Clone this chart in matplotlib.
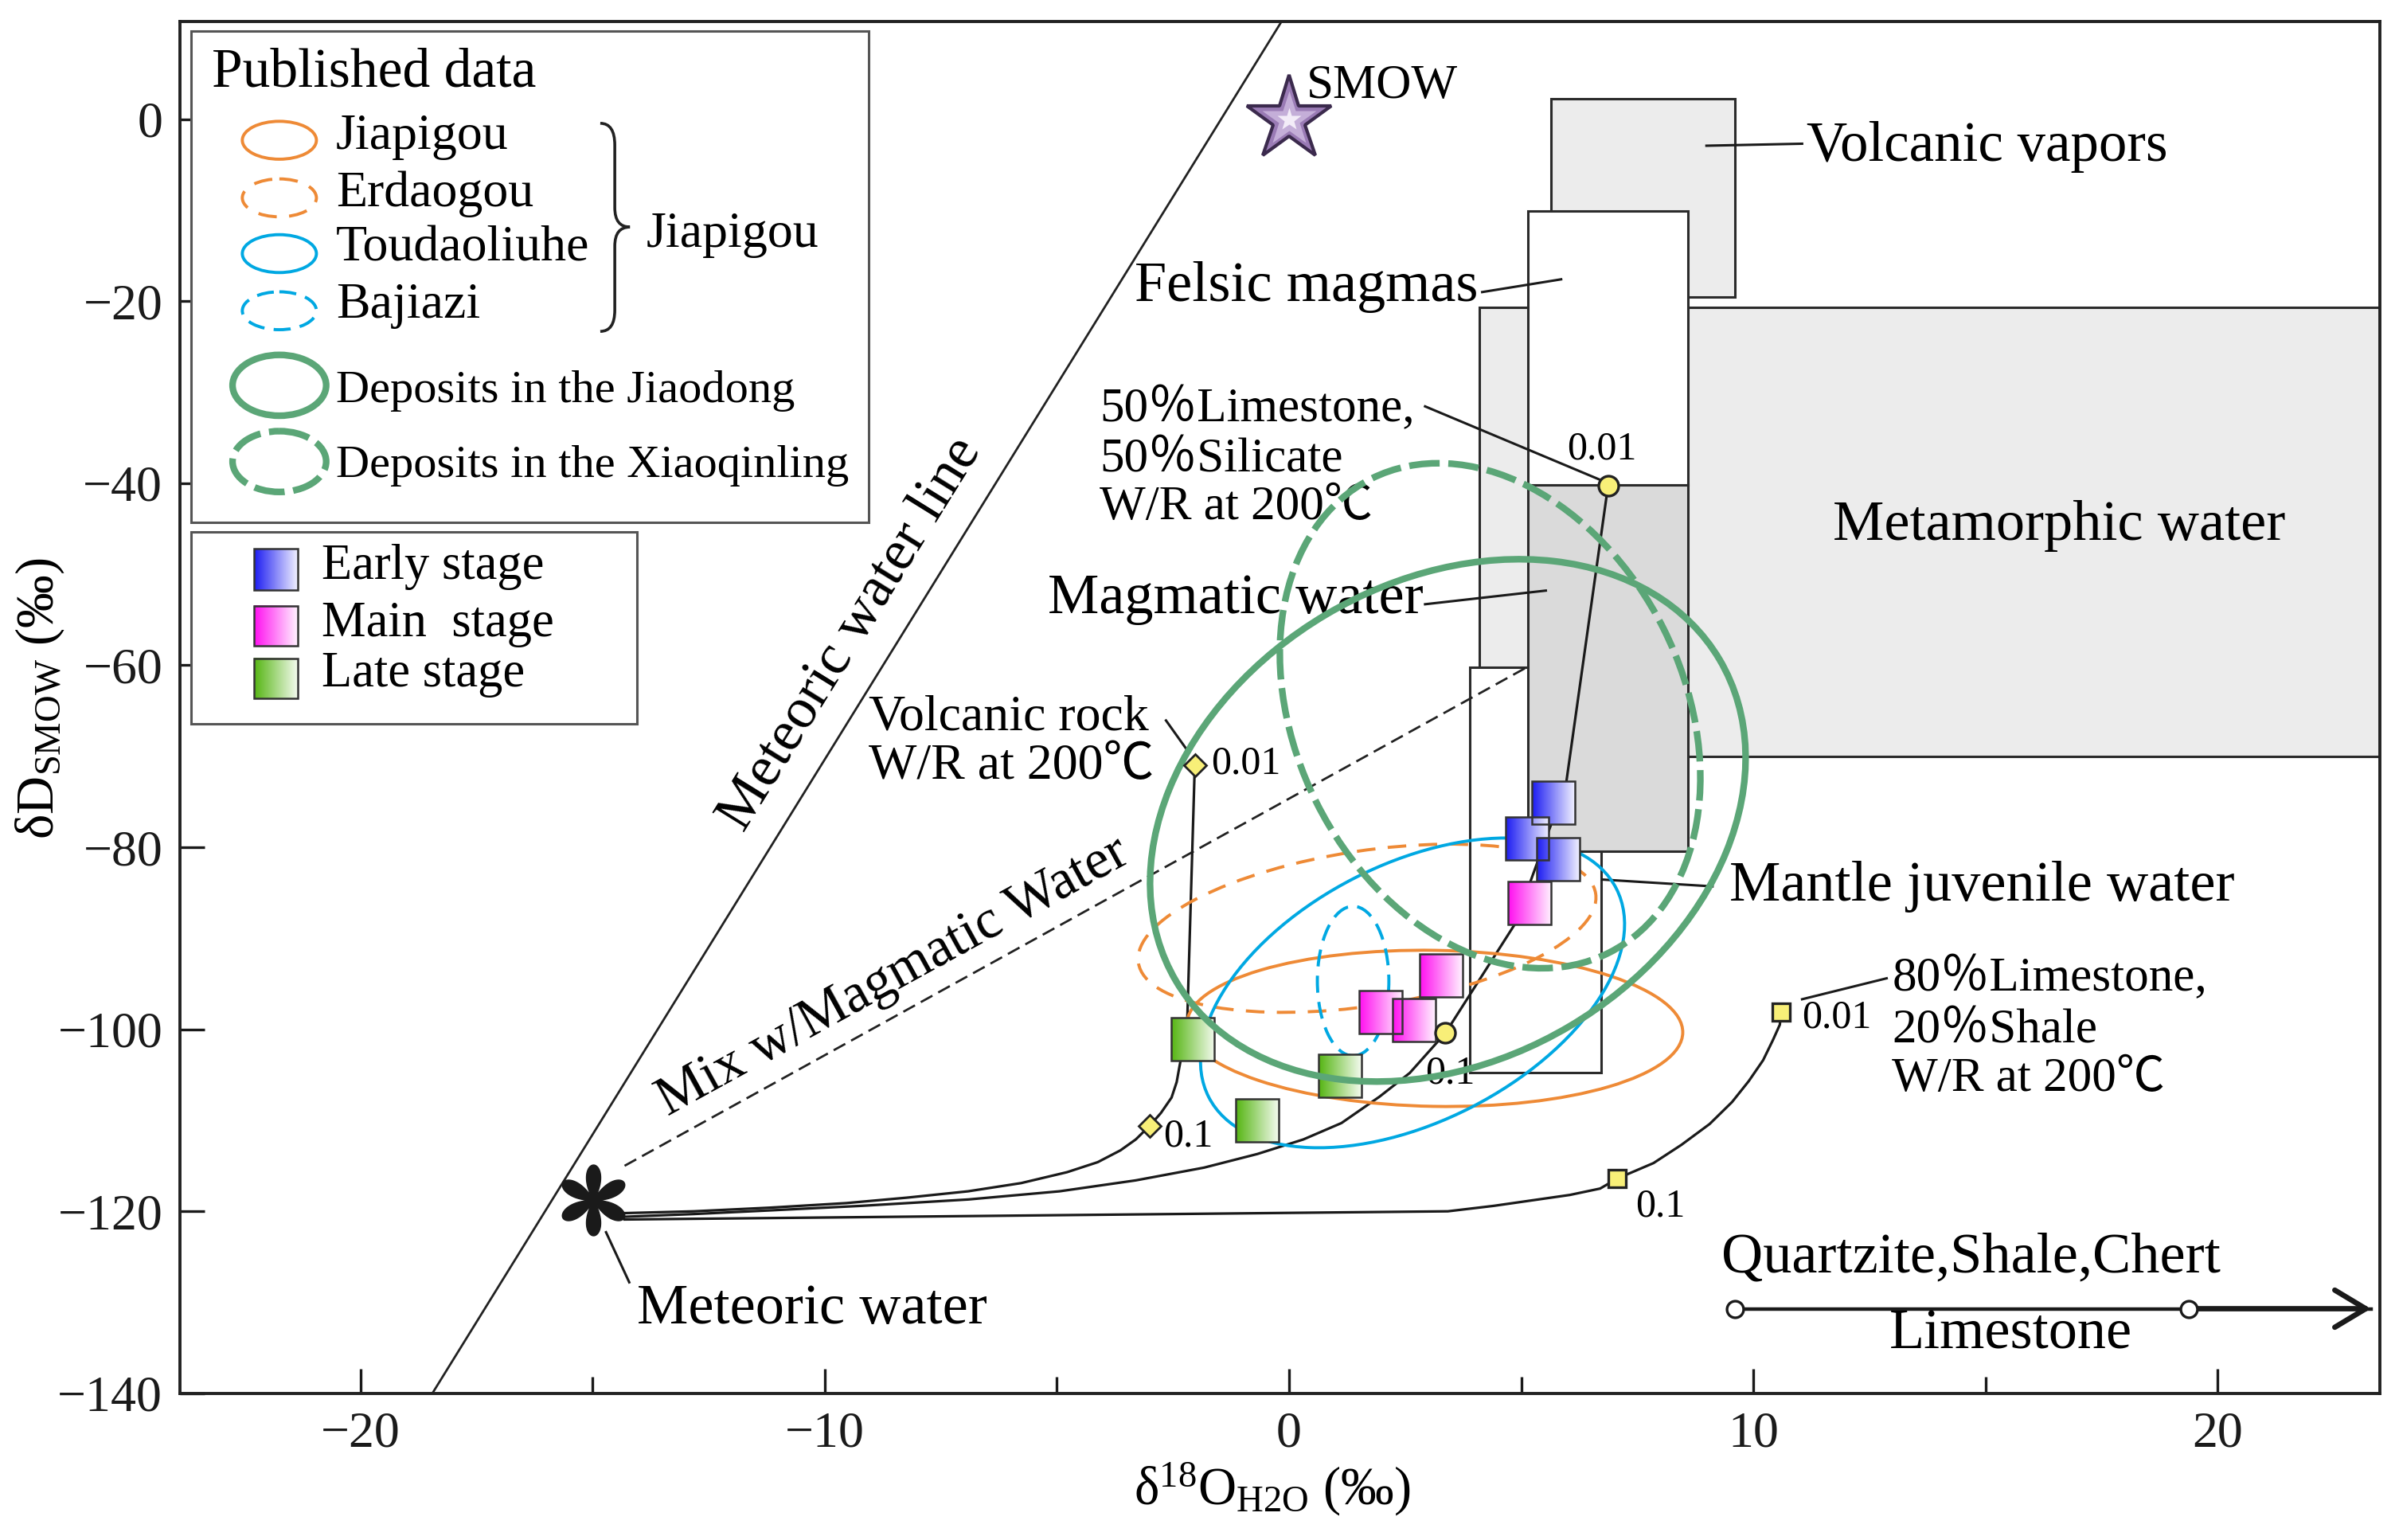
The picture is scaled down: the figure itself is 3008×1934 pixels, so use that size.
import numpy as np
import matplotlib
matplotlib.use('Agg')
import matplotlib.pyplot as plt
import matplotlib.transforms as mtransforms
from matplotlib.patches import Rectangle, Ellipse, PathPatch
from matplotlib.path import Path
from matplotlib.colors import LinearSegmentedColormap

plt.rcParams['font.family'] = ['Liberation Serif', 'Noto Sans CJK SC', 'DejaVu Serif']
plt.rcParams['mathtext.fontset'] = 'custom'
plt.rcParams['mathtext.rm'] = 'Liberation Serif'
plt.rcParams['mathtext.it'] = 'Liberation Serif:italic'
plt.rcParams['mathtext.bf'] = 'Liberation Serif:bold'

# ------------------------------------------------------------------ data
stage_labels = ['Early stage', 'Main  stage', 'Late stage']
early_d18o = [5.69, 5.13, 5.80]
early_dD = [-75.1, -79.0, -81.3]
main_d18o = [5.18, 3.28, 1.98, 2.69]
main_dD = [-86.1, -94.1, -98.1, -99.0]
late_d18o = [-2.08, 1.09, -0.69]
late_dD = [-101.1, -105.1, -110.0]

# published-data fields (centre, semi-axes in d18O units, tilt in degrees)
field_names = ['Jiapigou', 'Erdaogou', 'Toudaoliuhe', 'Bajiazi',
               'Deposits in the Jiaodong', 'Deposits in the Xiaoqinling']
field_cx = [3.14, 1.68, 2.66, 1.38, 3.42, 4.33]
field_cy = [-99.9, -88.9, -96.0, -94.7, -77.05, -65.55]
field_a = [5.34, 4.98, 4.93, 0.77, 6.80, 5.71]
field_b = [1.68, 1.67, 2.77, 1.61, 5.15, 4.18]
field_tilt = [-1.0, 8.6, 27.1, 0.0, 30.6, -63.4]

# reservoir boxes
box_names = ['Volcanic vapors', 'Metamorphic water', 'Mantle juvenile water',
             'Felsic magmas', 'Magmatic water']
box_x0 = [5.65, 4.10, 3.90, 5.14, 5.14]
box_x1 = [9.60, 24.5, 6.73, 8.60, 8.60]
box_y0 = [-19.5, -70.0, -104.8, -40.2, -80.4]
box_y1 = [2.2, -20.7, -60.2, -10.1, -40.2]

# meteoric water line and mixing line with magmatic water
mwl_d18o = [-18.45, -0.16]
mwl_dD = [-140.0, 10.74]
mix_d18o = [-14.31, 5.13]
mix_dD = [-115.0, -60.2]
meteoric_water = (-14.99, -118.8)
smow = (0.0, 0.0)

# water/rock exchange paths at 200 C
volc_path_x = [-14.31, -12.82, -11.18, -9.54, -8.23, -6.91, -5.77, -4.78, -4.12, -3.63, -3.30,
               -3.0, -2.76, -2.53, -2.42, -2.36, -2.30, -2.19, -2.03]
volc_path_y = [-120.2, -120.0, -119.6, -119.1, -118.5, -117.8, -116.9, -115.7, -114.6, -113.3, -112.1,
               -110.6, -109.2, -107.5, -105.8, -104.1, -102.5, -98.7, -71.0]
volc_wr_x = [-3.0, -2.03]
volc_wr_y = [-110.6, -71.0]
lssi_path_x = [-14.31, -12.82, -11.18, -9.21, -6.91, -4.94, -3.30, -1.83, -0.68, 0.31, 1.13, 1.95,
               2.60, 3.37, 4.87, 5.97, 6.87]
lssi_path_y = [-120.6, -120.3, -119.9, -119.4, -118.7, -117.8, -116.6, -115.2, -113.7, -112.1, -110.3,
               -107.4, -104.8, -100.4, -88.4, -72.9, -40.3]
lssi_wr_x = [3.37, 6.87]
lssi_wr_y = [-100.4, -40.3]
lssh_path_x = [-14.31, 3.42, 4.41, 5.23, 6.05, 6.70, 7.07, 7.85, 8.45, 9.06, 9.54, 9.90, 10.21,
               10.42, 10.57, 10.6]
lssh_path_y = [-120.9, -120.0, -119.4, -118.8, -118.2, -117.5, -116.4, -114.7, -112.7, -110.4, -108.0,
               -105.7, -103.4, -101.2, -99.5, -98.1]
lssh_wr_x = [7.07, 10.6]
lssh_wr_y = [-116.4, -98.1]
wr_labels = ['0.1', '0.01']

# rock-type d18O scale
rock_scale_x = [9.6, 19.38, 23.3]
rock_scale_y = -130.7

xticks_major = [-20, -10, 0, 10, 20]
xticks_minor = [-15, -5, 5, 15]
yticks = [-140, -120, -100, -80, -60, -40, -20, 0]

# ------------------------------------------------------------------ styles
ORANGE = '#ee8a36'
BLUE = '#00a8e2'
GREEN = '#5ba677'
field_colors = [ORANGE, ORANGE, BLUE, BLUE, GREEN, GREEN]
field_lw = [1.4, 1.4, 1.4, 1.4, 3.0, 3.0]
field_ls = ['-', (0, (6, 4)), '-', (0, (5.5, 3)), '-', (0, (4.6, 1.3))]
field_z = [4, 4, 4, 4, 6, 6]
box_fc = ['#ececec', '#ececec', 'white', 'white', '#dadada']
stage_cols = [('#1c1cf2', '#f0f0ff'), ('#ff0ff0', '#fff2ff'), ('#55b512', '#f3faee')]
FS = 26

fig = plt.figure(figsize=(15.04, 9.67), dpi=200)
ax = fig.add_axes([0.07526, 0.09524, 0.91836, 0.89087])
XL = (-23.88, 23.49)
YL = (-140, 10.74)
ax.set_xlim(*XL)
ax.set_ylim(*YL)

# pixel scale of the data axes
p0 = ax.transData.transform((0, 0))
px_x = ax.transData.transform((1, 0))[0] - p0[0]
px_y = ax.transData.transform((0, 1))[1] - p0[1]
k = px_y / px_x

# reservoir boxes
for x0, x1, y0, y1, fc in zip(box_x0, box_x1, box_y0, box_y1, box_fc):
    ax.add_patch(Rectangle((x0, y0), x1 - x0, y1 - y0, facecolor=fc,
                           edgecolor='#2b2b2b', lw=1.1, zorder=1))

# meteoric water line and mixing line
ax.plot(mwl_d18o, mwl_dD, color='#222', lw=1.0, zorder=2)
ax.plot(mix_d18o, mix_dD, color='#222', lw=1.0, ls=(0, (6, 3)), zorder=2)

# exchange paths
for px, py in [(volc_path_x, volc_path_y), (lssi_path_x, lssi_path_y), (lssh_path_x, lssh_path_y)]:
    ax.plot(px, py, color='#1a1a1a', lw=1.15, zorder=3, solid_joinstyle='round')

# published fields
etr = mtransforms.Affine2D().scale(1, 1 / k) + ax.transData
for cx, cy, a, b, t, c, lw, ls, z in zip(field_cx, field_cy, field_a, field_b, field_tilt,
                                          field_colors, field_lw, field_ls, field_z):
    ax.add_patch(Ellipse((cx, cy * k), 2 * a, 2 * b, angle=t, fill=False, edgecolor=c,
                         lw=lw, linestyle=ls, transform=etr, zorder=z))

# stage squares with gradient
side_px = 54.0
hw = side_px / 2 / px_x
hh = side_px / 2 / px_y
grad = np.linspace(0, 1, 128).reshape(1, -1)
for xs, ys, (c0, c1) in zip([early_d18o, main_d18o, late_d18o], [early_dD, main_dD, late_dD], stage_cols):
    cm = LinearSegmentedColormap.from_list('g', [c0, c1])
    for x, y in zip(xs, ys):
        ax.imshow(grad, cmap=cm, extent=(x - hw, x + hw, y - hh, y + hh), aspect='auto',
                  interpolation='bilinear', zorder=5)
        ax.add_patch(Rectangle((x - hw, y - hh), 2 * hw, 2 * hh, fill=False,
                               edgecolor='#333', lw=0.9, zorder=5.1))

# W/R markers
ax.plot(volc_wr_x, volc_wr_y, 'D', ms=7.2, mfc='#f8ef78', mec='#222', mew=1.0, ls='none', zorder=7)
ax.plot(lssi_wr_x, lssi_wr_y, 'o', ms=9, mfc='#f8ef78', mec='#222', mew=1.2, ls='none', zorder=7)
ax.plot(lssh_wr_x, lssh_wr_y, 's', ms=8, mfc='#f8ef78', mec='#222', mew=1.2, ls='none', zorder=7)

# meteoric water asterisk marker
th = np.linspace(0, 2 * np.pi, 721)
r = np.abs(np.sin(3 * th)) ** 0.8
ast_path = Path(np.column_stack([r * np.cos(th), r * np.sin(th)]), closed=True)
ax.plot([meteoric_water[0]], [meteoric_water[1]], marker=ast_path, ms=32, color='#1a1a1a',
        mec='#1a1a1a', mew=0.5, ls='none', zorder=8)

# SMOW star
ax.plot([smow[0]], [smow[1]], '*', ms=40, mfc='#9a7bb5', mec='#3b2a4d', mew=1.5, zorder=8)
ax.plot([smow[0]], [smow[1]], '*', ms=26, mfc='#c4aed8', mec='none', zorder=8)
ax.plot([smow[0]], [smow[1]], '*', ms=11, mfc='#f3ecf8', mec='none', zorder=8)

# rock scale
ax.plot([rock_scale_x[0], rock_scale_x[2]], [rock_scale_y] * 2, color='#1a1a1a', lw=1.6, zorder=3)
ax.annotate('', xy=(rock_scale_x[2], rock_scale_y), xytext=(rock_scale_x[1], rock_scale_y),
            arrowprops=dict(arrowstyle='->,head_length=0.5,head_width=0.3', lw=2.4,
                            color='#1a1a1a', shrinkA=0, shrinkB=0, mutation_scale=28), zorder=3)
ax.plot(rock_scale_x[:2], [rock_scale_y] * 2, 'o', ms=7.5, mfc='white', mec='#1a1a1a', mew=1.2,
        ls='none', zorder=4)

# ------------------------------------------------------------------ labels
def leader(p, q):
    ax.plot([p[0], q[0]], [p[1], q[1]], color='#1a1a1a', lw=1.1, zorder=3)

ax.text(0.375, 3.6, 'SMOW', fontsize=22, ha='left', va='center', zorder=9)
ax.text(11.15, -3.09, box_names[0], fontsize=25.5, ha='left', va='center')
leader((8.99, -2.92), (11.05, -2.70))
ax.text(4.07, -18.45, box_names[3], fontsize=FS, ha='right', va='center')
leader((4.16, -19.0), (5.86, -17.6))
ax.text(16.58, -44.67, box_names[1], fontsize=FS, ha='center', va='center')
ax.text(2.89, -52.78, box_names[4], fontsize=FS, ha='right', va='center', zorder=5)
leader((2.93, -53.3), (5.53, -51.8))
ax.text(9.48, -84.3, box_names[2], fontsize=FS, ha='left', va='center')
leader((6.75, -83.55), (9.12, -84.3))

for y, s in zip([-31.85, -37.4, -42.7], ['50％Limestone,', '50％Silicate', 'W/R at 200℃']):
    ax.text(-4.08, y, s, fontsize=22, ha='left', va='center', zorder=5)
leader((2.93, -31.56), (6.71, -39.65))
ax.text(6.74, -36.3, wr_labels[1], fontsize=18, ha='center', va='center')

for y, s in zip([-65.8, -71.18], ['Volcanic rock', 'W/R at 200℃']):
    ax.text(-9.05, y, s, fontsize=23, ha='left', va='center')
leader((-2.65, -66.07), (-2.17, -69.5))
ax.text(-1.68, -70.8, wr_labels[1], fontsize=18, ha='left', va='center')
ax.text(-2.70, -111.8, wr_labels[0], fontsize=18, ha='left', va='center')
ax.text(2.93, -104.9, wr_labels[0], fontsize=18, ha='left', va='center', zorder=3.5)
ax.text(11.05, -98.7, wr_labels[1], fontsize=18, ha='left', va='center')
ax.text(7.47, -119.5, wr_labels[0], fontsize=18, ha='left', va='center')

for y, s in zip([-94.4, -100.1, -105.5], ['80％Limestone,', '20％Shale', 'W/R at 200℃']):
    ax.text(12.99, y, s, fontsize=22, ha='left', va='center')
leader((11.05, -96.7), (12.87, -94.4))

ax.text(14.69, -125.1, 'Quartzite,Shale,Chert', fontsize=FS, ha='center', va='center')
ax.text(15.54, -133.5, 'Limestone', fontsize=FS, ha='center', va='center')
ax.text(-14.05, -130.8, 'Meteoric water', fontsize=FS, ha='left', va='center')
leader((-14.71, -122.3), (-14.21, -127.8))
ax.text(-9.44, -56.6, 'Meteoric water line', fontsize=FS, ha='center', va='center',
        rotation=58.2, rotation_mode='anchor')
ax.text(-8.52, -94.3, 'Mix w/Magmatic Water', fontsize=25, ha='center', va='center',
        rotation=28.8, rotation_mode='anchor')

# ------------------------------------------------------------------ axes styling
ax.set_xticks(xticks_major)
ax.set_xticks(xticks_minor, minor=True)
ax.set_yticks(yticks)
ax.tick_params(which='both', direction='in', width=1.2, labelsize=23, colors='#1a1a1a')
ax.tick_params(which='major', length=11, pad=8)
ax.tick_params(which='minor', length=7.5)
for s in ax.spines.values():
    s.set_linewidth(1.4)
    s.set_color('#222')
ax.set_xlim(*XL)
ax.set_ylim(*YL)

fig.text(0.5312, 0.0327, r'δ$^{\mathrm{18}}$O$_{\mathrm{H2O}}$ (‰)', fontsize=24, ha='center', va='center')
fig.text(0.0166, 0.5466, r'δD$_{\mathrm{SMOW}}$ (‰)', fontsize=24, ha='center', va='center', rotation=90)

# ------------------------------------------------------------------ legends (overlay in reference pixel units)
lg = fig.add_axes([0, 0, 1, 1])
lg.set_xlim(0, 1568)
lg.set_ylim(1008, 0)
lg.axis('off')
lg.add_patch(Rectangle((125.2, 20.3), 568.9 - 125.2, 342 - 20.3, facecolor='white', edgecolor='#555',
                       lw=1.1, zorder=1))
lg.add_patch(Rectangle((125.2, 348), 416.9 - 125.2, 473.6 - 348, facecolor='white', edgecolor='#555',
                       lw=1.1, zorder=1))
lg.text(138.6, 47.8, 'Published data', fontsize=25, ha='left', va='center', zorder=3)

icon_y = [91.8, 129.5, 166, 203.4, 252.2, 302.1]
label_y = [89.7, 127.1, 163, 200.4, 255.8, 305.1]
icon_w = [48.5, 48.5, 48.5, 48.5, 61.3, 61.3]
icon_h = [24.8, 24.8, 24.8, 24.8, 39.8, 39.8]
for i, name in enumerate(field_names):
    lg.add_patch(Ellipse((182.9, icon_y[i]), icon_w[i], icon_h[i], fill=False,
                         edgecolor=field_colors[i], lw=field_lw[i], linestyle=field_ls[i], zorder=3))
    lg.text(220, label_y[i], name, fontsize=23 if i < 4 else 21, ha='left', va='center', zorder=3)

brace = Path([(393, 80.7), (402.5, 80.7), (402.5, 95), (402.5, 136), (402.5, 148.6), (412.4, 148.6),
              (402.5, 148.6), (402.5, 161), (402.5, 203), (402.5, 216.9), (393, 216.9)],
             [Path.MOVETO, Path.CURVE3, Path.CURVE3, Path.LINETO, Path.CURVE3, Path.CURVE3,
              Path.CURVE3, Path.CURVE3, Path.LINETO, Path.CURVE3, Path.CURVE3])
lg.add_patch(PathPatch(brace, fill=False, edgecolor='#222', lw=1.3, zorder=3))
lg.text(422.9, 154, 'Jiapigou', fontsize=23, ha='left', va='center', zorder=3)

sq_y = [(359, 386), (396.4, 422.8), (430.8, 457.2)]
sq_lab_y = [371, 408.4, 441.3]
for (y0, y1), (c0, c1), ly, name in zip(sq_y, stage_cols, sq_lab_y, stage_labels):
    cm = LinearSegmentedColormap.from_list('g', [c0, c1])
    lg.imshow(grad, cmap=cm, extent=(166.4, 194.9, y1, y0), aspect='auto', interpolation='bilinear',
              zorder=2)
    lg.add_patch(Rectangle((166.4, y0), 194.9 - 166.4, y1 - y0, fill=False, edgecolor='#333', lw=0.9,
                           zorder=3))
    lg.text(210.4, ly, name, fontsize=22.5, ha='left', va='center', zorder=3)
lg.set_xlim(0, 1568)
lg.set_ylim(1008, 0)

fig.savefig('out.png', dpi=200)
